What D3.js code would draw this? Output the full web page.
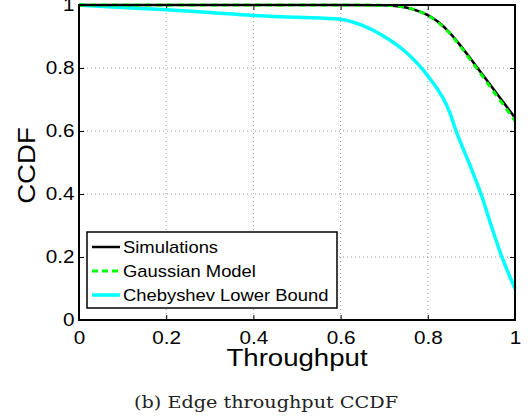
<!DOCTYPE html>
<html><head><meta charset="utf-8">
<script src="https://cdn.jsdelivr.net/npm/d3@7"></script>
<style>body{margin:0;background:#fff;}svg{display:block;}</style>
</head><body>
<svg id="c" width="532" height="419"></svg>
<script>
const xTicks = [0, 0.2, 0.4, 0.6, 0.8, 1];
const yTicks = [0, 0.2, 0.4, 0.6, 0.8, 1];
const simX = [0, 0.2, 0.4, 0.6, 0.7, 0.72, 0.75, 0.78, 0.8, 0.825, 0.85, 0.875, 0.9, 0.925, 0.95, 0.975, 1.0];
const simY = [1, 1, 1, 1, 0.999, 0.998, 0.992, 0.98, 0.968, 0.945, 0.912, 0.871, 0.826, 0.78, 0.734, 0.688, 0.642];
const gaussX = [0, 0.2, 0.4, 0.6, 0.7, 0.72, 0.75, 0.78, 0.8, 0.825, 0.85, 0.875, 0.9, 0.925, 0.95, 0.975, 1.0];
const gaussY = [1, 1, 1, 1, 0.999, 0.998, 0.992, 0.98, 0.967, 0.943, 0.91, 0.868, 0.822, 0.775, 0.727, 0.68, 0.632];
const chebX = [0, 0.1, 0.2, 0.3, 0.4, 0.5, 0.6, 0.65, 0.7, 0.75, 0.8, 0.85, 0.865, 0.9, 0.922, 0.95, 0.97, 1.0];
const chebY = [1, 0.992, 0.985, 0.976, 0.967, 0.961, 0.955, 0.935, 0.9, 0.85, 0.775, 0.66, 0.6, 0.48, 0.4, 0.28, 0.2, 0.1];
const legendLabels = ["Simulations", "Gaussian Model", "Chebyshev Lower Bound"];

const SX = 1.15; // horizontal stretch of the original figure's text
const FONT = "Liberation Sans, Arial, Helvetica, sans-serif";
const svg = d3.select("#c");
const L = 79, R = 515, T = 5, B = 320;
const x = d3.scaleLinear().domain([0, 1]).range([L, R]);
const y = d3.scaleLinear().domain([0, 1]).range([B, T]);

// grid
const g = svg.append("g");
g.selectAll(".gx").data(xTicks.slice(1, -1)).enter().append("line")
  .attr("x1", d => x(d)).attr("x2", d => x(d)).attr("y1", T).attr("y2", B)
  .attr("stroke", "#999").attr("stroke-width", 1).attr("stroke-dasharray", "1,3");
g.selectAll(".gy").data(yTicks.slice(1, -1)).enter().append("line")
  .attr("y1", d => y(d)).attr("y2", d => y(d)).attr("x1", L).attr("x2", R)
  .attr("stroke", "#999").attr("stroke-width", 1).attr("stroke-dasharray", "1,3");

// axes
const fmt = d => d === 0 ? "0" : d === 1 ? "1" : d3.format(".1f")(d);
const ax = svg.append("g").attr("transform", `translate(0,${B})`)
  .call(d3.axisBottom(x).tickValues(xTicks).tickFormat(fmt).tickSizeInner(-5).tickSizeOuter(0).tickPadding(11));
const ay = svg.append("g").attr("transform", `translate(${L},0)`)
  .call(d3.axisLeft(y).tickValues(yTicks).tickFormat(fmt).tickSizeInner(-5).tickSizeOuter(0).tickPadding(4));
const at = svg.append("g").attr("transform", `translate(0,${T})`)
  .call(d3.axisTop(x).tickValues(xTicks).tickFormat("").tickSizeInner(-5).tickSizeOuter(0));
const ar = svg.append("g").attr("transform", `translate(${R},0)`)
  .call(d3.axisRight(y).tickValues(yTicks).tickFormat("").tickSizeInner(-5).tickSizeOuter(0));
[ax, ay, at, ar].forEach(a => {
  a.select(".domain").remove();
  a.selectAll(".tick line").attr("stroke", "#000").attr("stroke-width", 1);
  a.selectAll("text").attr("font-family", FONT).attr("font-size", 18).attr("fill", "#000")
    .attr("transform", `scale(${SX},1)`);
});

// curves
const line = d3.line().x(d => x(d[0])).y(d => y(d[1])).curve(d3.curveMonotoneX);
const zip = (a, b) => a.map((v, i) => [v, b[i]]);
svg.append("path").datum(zip(chebX, chebY)).attr("d", line)
  .attr("fill", "none").attr("stroke", "#00ffff").attr("stroke-width", 3.5);
svg.append("path").datum(zip(simX, simY)).attr("d", line)
  .attr("fill", "none").attr("stroke", "#000").attr("stroke-width", 2.5);
svg.append("path").datum(zip(gaussX, gaussY)).attr("d", line)
  .attr("fill", "none").attr("stroke", "#00ff00").attr("stroke-width", 3).attr("stroke-dasharray", "6,5");

// box
svg.append("rect").attr("x", L).attr("y", T).attr("width", R - L).attr("height", B - T)
  .attr("fill", "none").attr("stroke", "#000").attr("stroke-width", 2);

// legend
const lg = svg.append("g");
lg.append("rect").attr("x", 87).attr("y", 232).attr("width", 250).attr("height", 76)
  .attr("fill", "#fff").attr("stroke", "#000").attr("stroke-width", 1.5);
const styles = [
  {c: "#000", w: 2.5, d: null},
  {c: "#00ff00", w: 3, d: "6,4"},
  {c: "#00ffff", w: 3.5, d: null}
];
legendLabels.forEach((t, i) => {
  const yy = 247 + i * 24;
  lg.append("line").attr("x1", 92).attr("x2", 120).attr("y1", yy).attr("y2", yy)
    .attr("stroke", styles[i].c).attr("stroke-width", styles[i].w).attr("stroke-dasharray", styles[i].d);
  lg.append("text").attr("transform", `translate(123,${yy}) scale(${SX},1)`).attr("dy", "0.36em").text(t)
    .attr("font-family", FONT).attr("font-size", 16);
});

// axis titles
svg.append("text").attr("transform", `translate(${(L + R) / 2},366) scale(${SX},1)`).attr("text-anchor", "middle")
  .attr("font-family", FONT).attr("font-size", 24).text("Throughput");
svg.append("text").attr("transform", `translate(35,${(T + B) / 2 + 3}) rotate(-90) scale(${SX},1)`).attr("text-anchor", "middle")
  .attr("font-family", FONT).attr("font-size", 24).text("CCDF");
svg.append("text").attr("x", 266).attr("y", 408).attr("text-anchor", "middle")
  .attr("textLength", 264).attr("lengthAdjust", "spacingAndGlyphs")
  .attr("font-family", "DejaVu Serif, serif").attr("font-size", 17).attr("fill", "#222").text("(b) Edge throughput CCDF");
</script>
</body></html>
